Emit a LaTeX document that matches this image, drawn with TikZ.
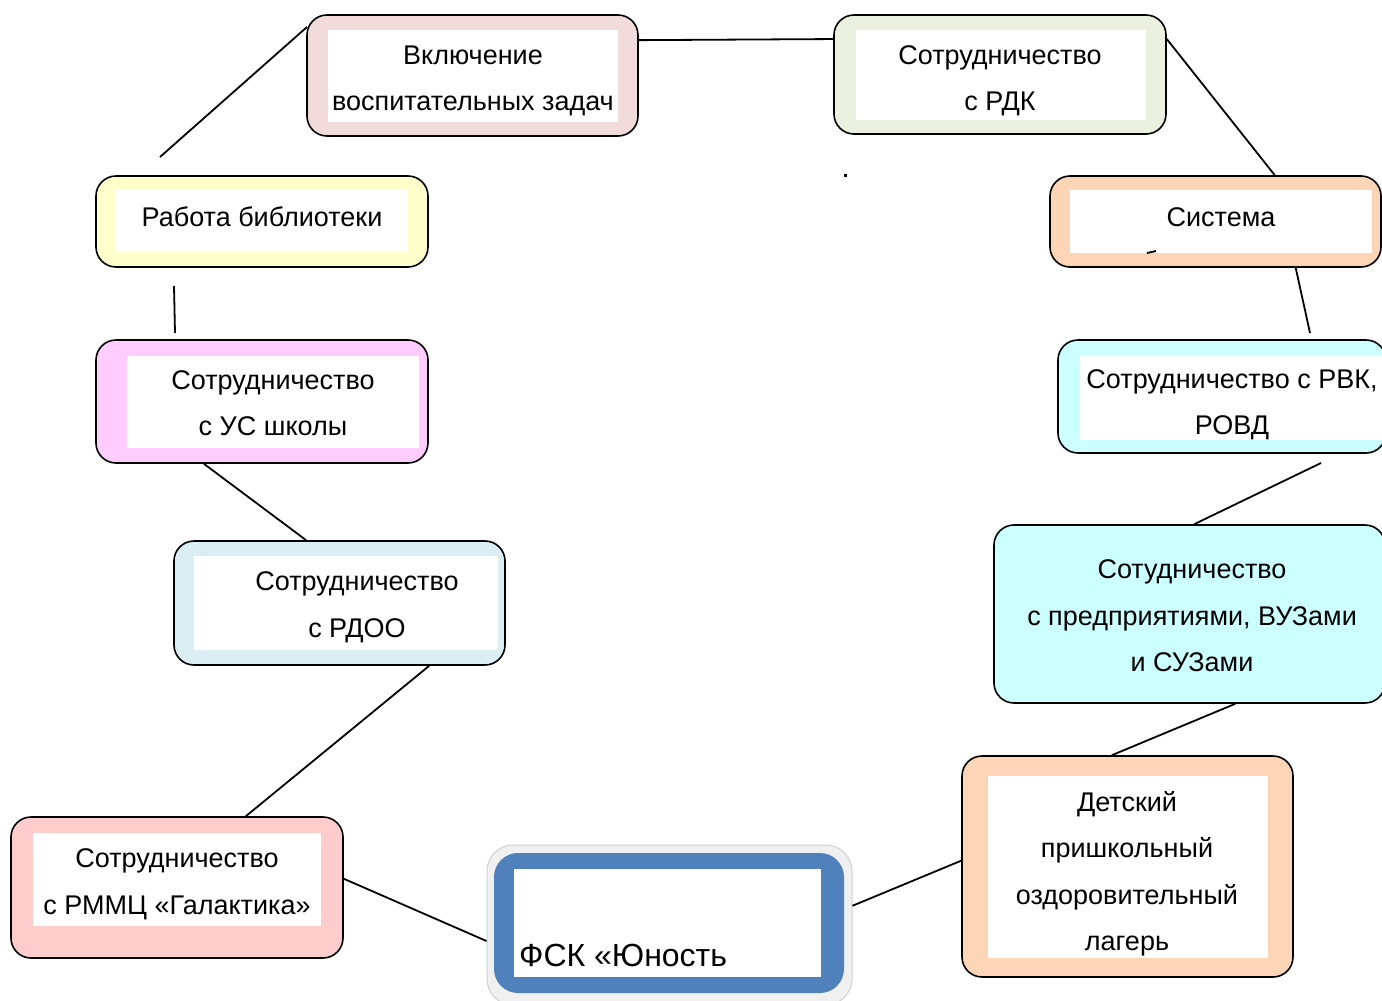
\documentclass[tikz,border=0pt]{standalone}
\usepackage{fontspec}
\setmainfont{Liberation Sans}

\definecolor{vklfill}{HTML}{F2DCDB}
\definecolor{rdkfill}{HTML}{EBF1DE}
\definecolor{libfill}{HTML}{FFFFCC}
\definecolor{peach}{HTML}{FBD5B5}
\definecolor{usfill}{HTML}{FFCCFF}
\definecolor{cyanfill}{HTML}{CCFFFF}
\definecolor{rdoofill}{HTML}{DBEEF3}
\definecolor{rmmcfill}{HTML}{FFCCCC}
\definecolor{fskblue}{HTML}{4F81BD}

\begin{document}
\begin{tikzpicture}[x=1pt, y=-1pt,
  outbox/.style={draw=black, line width=1.6pt, rounded corners=20pt, inner sep=0pt},
  inbox/.style={fill=white, inner sep=0pt},
  boxtext/.style={inner sep=0pt, align=center, font=\fontsize{27}{46.5}\selectfont},
  link/.style={line width=1.8pt}]
   \useasboundingbox (0,0) rectangle (1382,1001);
   \clip (0,0) rectangle (1382,1001);

   % draw outer boxes
   \node (vkl)  [outbox, fill=vklfill,  minimum width=331pt, minimum height=121pt] at (472.5,75.5) {};
   \node (rdk)  [outbox, fill=rdkfill,  minimum width=332pt, minimum height=119pt] at (1000,74.5) {};
   \node (lib)  [outbox, fill=libfill,  minimum width=332pt, minimum height=91pt]  at (262,221.5) {};
   \node (sys)  [outbox, fill=peach,    minimum width=331pt, minimum height=91pt]  at (1215.5,221.5) {};
   \node (us)   [outbox, fill=usfill,   minimum width=332pt, minimum height=123pt] at (262,401.5) {};
   \node (rvk)  [outbox, fill=cyanfill, minimum width=328pt, minimum height=113pt] at (1222,396.5) {};
   \node (rdoo) [outbox, fill=rdoofill, minimum width=331pt, minimum height=124pt] at (339.5,603) {};
   \node (pred) [outbox, fill=cyanfill, minimum width=391pt, minimum height=178pt] at (1189.5,614) {};
   \node (det)  [outbox, fill=peach,    minimum width=331pt, minimum height=221pt] at (1127.5,866.5) {};
   \node (rmmc) [outbox, fill=rmmcfill, minimum width=332pt, minimum height=141pt] at (177,887.5) {};

   % draw inner white boxes
   \node (vklin)  [inbox, minimum width=290pt, minimum height=92pt]  at (473,76) {};
   \node (rdkin)  [inbox, minimum width=290pt, minimum height=90pt]  at (1001,75) {};
   \node (libin)  [inbox, minimum width=292pt, minimum height=62pt]  at (262,221) {};
   \node (sysin)  [inbox, minimum width=302pt, minimum height=63pt]  at (1221,221.5) {};
   \node (usin)   [inbox, minimum width=292pt, minimum height=92pt]  at (273,402) {};
   \node (rvkin)  [inbox, minimum width=304pt, minimum height=84pt]  at (1232,398) {};
   \node (rdooin) [inbox, minimum width=304pt, minimum height=94pt]  at (346,603) {};
   \node (detin)  [inbox, minimum width=280pt, minimum height=182pt] at (1128,867) {};
   \node (rmmcin) [inbox, minimum width=288pt, minimum height=93pt]  at (177,879.5) {};

   % draw texts
   \node (vkltxt)  [boxtext] at (473,81)    {Включение\\воспитательных задач};
   \node (rdktxt)  [boxtext] at (1000,81)   {Сотрудничество\\с РДК};
   \node (libtxt)  [boxtext] at (262,217)   {Работа библиотеки};
   \node (systxt)  [boxtext] at (1221,217)  {Система};
   \node (ustxt)   [boxtext] at (273,403)   {Сотрудничество\\с УС школы};
   \node (rvktxt)  [boxtext] at (1232,405)  {Сотрудничество с РВК,\\РОВД};
   \node (rdootxt) [boxtext] at (357,607.5) {Сотрудничество\\с РДОО};
   \node (predtxt) [boxtext] at (1192,616)  {Сотудничество\\с предприятиями, ВУЗами\\и СУЗами};
   \node (dettxt)  [boxtext] at (1127,874)  {Детский\\пришкольный\\оздоровительный\\лагерь};
   \node (rmmctxt) [boxtext] at (177,884.5) {Сотрудничество\\с РММЦ «Галактика»};

   % draw main box
   \node (fsk) [fill=black!6, draw=black!18, line width=1pt, rounded corners=26pt,
                minimum width=365pt, minimum height=160pt, inner sep=0pt] at (669.5,925) {};
   \node (fskring) [fill=fskblue, rounded corners=24pt, minimum width=350pt, minimum height=140pt,
                    inner sep=0pt] at (669,923) {};
   \node (fskin) [fill=white, minimum width=307pt, minimum height=108pt, inner sep=0pt] at (667.5,923) {};
   \node (fsktxt) [anchor=base west, inner sep=0pt, font=\fontsize{32}{38}\selectfont] at (519,966) {ФСК «Юность};

   % free ends of the lines
   \coordinate (libtop) at (160,157);
   \coordinate (libbot) at (174,286);
   \coordinate (ustop)  at (175,333);
   \coordinate (rvktop) at (1310,333);
   \coordinate (rvkbot) at (1321,463);

   % draw lines
   \draw[link] (libtop) -- (307,27);
   \draw[link] (vkl.12) -- (rdk.168);
   \draw[link] (rdk.12) -- (sys.38);
   \draw[link] (sys.-30) -- (rvktop);
   \draw[link] (libbot) -- (ustop);
   \draw[link] (us.-133) -- (rdoo.118);
   \draw[link] (rdoo.-35) -- (rmmc.46);
   \draw[link] (rvkbot) -- (pred.87);
   \draw[link] (pred.-63) -- (det.98);
   \draw[link] (rmmc.3) -- (fsk.-175);
   \draw[link] (fsk.6) -- (det.178);

   % small marks
   \fill (843.5,174) rectangle (846.5,177);
   \draw[line width=1.8pt] (1147,253) -- (1156,251);
\end{tikzpicture}
\end{document}
